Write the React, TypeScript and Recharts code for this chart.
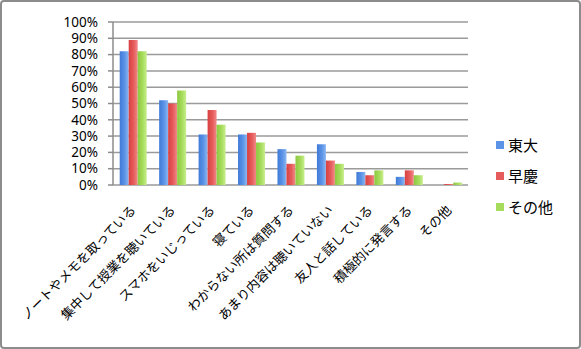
import { BarChart, Bar, XAxis, YAxis, CartesianGrid } from 'recharts';

const categories = [
  'ノートやメモを取っている',
  '集中して授業を聴いている',
  'スマホをいじっている',
  '寝ている',
  'わからない所は質問する',
  'あまり内容は聴いていない',
  '友人と話している',
  '積極的に発言する',
  'その他',
];

const todai = [82, 52, 31, 31, 22, 25, 8, 5, 0];
const sokei = [89, 50, 46, 32, 13, 15, 6, 9, 0.6];
const sonota = [82, 58, 37, 26, 18, 13, 9, 6, 1.5];

const yTicks = [0, 10, 20, 30, 40, 50, 60, 70, 80, 90, 100];
const boundaryTicks = [0, 1, 2, 3, 4, 5, 6, 7, 8, 9];

const series = [
  { key: 'todai', name: '東大', color: '#5b93e6', light: '#8cb8f2', dark: '#3f7ad8' },
  { key: 'sokei', name: '早慶', color: '#e65c5c', light: '#f28a8a', dark: '#d84040' },
  { key: 'sonota', name: 'その他', color: '#a6dc5c', light: '#c8ee8e', dark: '#8cc840' },
];

const data = categories.map((name, i) => ({
  name,
  todai: todai[i],
  sokei: sokei[i],
  sonota: sonota[i],
}));

const jpFont = '"Noto Sans CJK JP", "Noto Sans", sans-serif';

function CategoryTick(props: any) {
  const { x, y, payload } = props;
  return (
    <g transform={`translate(${x + 4},${y + 26})`}>
      <text
        transform="rotate(-45)"
        textAnchor="end"
        fontSize={13}
        fontFamily={jpFont}
        fill="#000"
      >
        {payload.value}
      </text>
    </g>
  );
}

export default function App() {
  return (
    <div
      style={{
        position: 'absolute',
        left: 0,
        top: 0,
        width: 581,
        height: 349,
        boxSizing: 'border-box',
        border: '2px solid #8c8c8c',
        borderRadius: 4,
        background: '#fff',
      }}
    >
      <BarChart
        width={577}
        height={345}
        data={data}
        margin={{ top: 20, right: 111, left: 0, bottom: 0 }}
        barCategoryGap="17%"
        barGap={0}
      >
        <defs>
          {series.map((s) => (
            <linearGradient key={s.key} id={`grad-${s.key}`} x1="0" y1="0" x2="1" y2="0">
              <stop offset="0%" stopColor={s.dark} />
              <stop offset="55%" stopColor={s.color} />
              <stop offset="100%" stopColor={s.light} />
            </linearGradient>
          ))}
        </defs>
        <CartesianGrid vertical={false} stroke="#9a9a9a" strokeWidth={1.5} />
        <XAxis
          xAxisId="cat"
          dataKey="name"
          interval={0}
          height={162}
          axisLine={false}
          tickLine={false}
          tickSize={0}
          tickMargin={0}
          tick={<CategoryTick />}
        />
        <XAxis
          xAxisId="edge"
          type="number"
          domain={[0, 9]}
          allowDataOverflow
          ticks={boundaryTicks}
          interval={0}
          height={0}
          tickSize={5}
          tickFormatter={() => ''}
          stroke="#8c8c8c"
          strokeWidth={1.5}
        />
        <YAxis
          width={111}
          domain={[0, 100]}
          ticks={yTicks}
          interval={0}
          tickFormatter={(v) => `${v}%`}
          tickSize={5}
          tickMargin={10}
          stroke="#8c8c8c"
          strokeWidth={1.5}
          tick={{ fontSize: 13.5, fill: '#000', fontFamily: '"Noto Sans", sans-serif' }}
        />
        {series.map((s) => (
          <Bar
            key={s.key}
            xAxisId="cat"
            dataKey={s.key}
            name={s.name}
            fill={`url(#grad-${s.key})`}
            isAnimationActive={false}
          />
        ))}
      </BarChart>
      <div
        style={{
          position: 'absolute',
          left: 494,
          top: 127,
          fontFamily: jpFont,
          fontSize: 15,
          color: '#000',
        }}
      >
        {series.map((s) => (
          <div key={s.key} style={{ display: 'flex', alignItems: 'center', height: 31 }}>
            <span
              style={{
                display: 'inline-block',
                width: 8,
                height: 8,
                backgroundColor: s.color,
                marginRight: 4,
              }}
            />
            {s.name}
          </div>
        ))}
      </div>
    </div>
  );
}
